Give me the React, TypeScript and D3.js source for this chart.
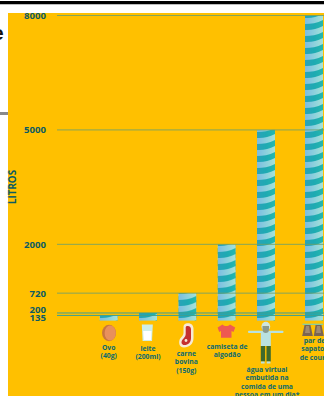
import React from "react";
import * as d3 from "d3";

// Virtual water footprint of everyday items, in litres
const tickValues = [8000, 5000, 2000, 720, 200, 135];
const barValues = [135, 200, 720, 2000, 5000, 8000];
const itemLabels = [
  ["Ovo", "(40g)"],
  ["leite", "(200ml)"],
  ["carne", "bovina", "(150g)"],
  ["camiseta de", "algodão"],
  ["água virtual", "embutida na", "comida de uma", "pessoa em um dia*"],
  ["par de", "sapatos", "de couro"],
];
const axisTitle = "LITROS";

const WIDTH = 324;
const HEIGHT = 396;
const BAR_W = 18;
const INK = "#0c5b63";
const LABEL = "#0a6a70";
const FONT = "'Open Sans', sans-serif";

const y = d3.scaleLinear().domain([0, 8000]).range([320.6, 15.5]);
// The last item sits a little apart from the evenly spaced first five
const xCenter = d3.scaleLinear().domain([0, 4, 5]).range([108.7, 266, 314]);

const labelLayout = [
  { dx: 0, top: 347.5 },
  { dx: 0, top: 349 },
  { dx: -1, top: 354 },
  { dx: 0.5, top: 346.7 },
  { dx: 1, top: 370 },
  { dx: 0.5, top: 341 },
];

function StripePattern({ id, x }: { id: string; x: number }) {
  return (
    <pattern id={id} patternUnits="userSpaceOnUse" x={x} y={0} width={BAR_W} height={12}>
      <rect width={BAR_W} height={12} fill="url(#barBase)" />
      <path d="M0,6 C6,6.5 12,5 18,2 L18,8 C12,11 6,12 0,12 Z" fill="url(#barLight)" />
    </pattern>
  );
}

function Icons() {
  return (
    <g>
      {/* egg */}
      <ellipse cx={109} cy={333} rx={7} ry={8.2} fill="#c8763f" />
      <ellipse cx={110.2} cy={333} rx={5.6} ry={7.4} fill="#e8905c" />
      {/* glass of milk */}
      <path d="M141.8,324.5 H152.8 L152,341 H142.6 Z" fill="#cfeee8" />
      <path d="M143.2,331 H151.5 L151,340 H143.8 Z" fill="#ffffff" />
      {/* cut of beef */}
      <path
        d="M186,323.5 C191,322.5 193.5,325 193.5,329 L193.5,338 C193.5,344 189,347.5 184,347.5 C179.5,347.5 178.5,343 179.5,340 C180.5,337 183,336.5 183.5,333 L183.5,327 C183.5,325 184.5,324 186,323.5 Z"
        fill="#f6ead6"
      />
      <path
        d="M186.8,326 C189.5,325.5 191,327 191,329.5 L191,338 C191,342.5 188,345 184.5,345 C181.5,345 181,342.5 182,340.5 C183,338.5 185.5,337.5 185.7,334 L185.7,328 C185.7,327 186,326.3 186.8,326 Z"
        fill="#c5302f"
      />
      <circle cx={186} cy={340.5} r={1.4} fill="#f6ead6" />
      {/* t-shirt */}
      <path
        d="M222.5,324.5 C224.5,326.5 228,326.5 230,324.5 L235.2,327.5 L233.5,332 L231.5,331 L231.5,337.8 H221 L221,331 L219.2,332 L217.6,327.5 Z"
        fill="#ee5a52"
      />
      {/* person */}
      <rect x={248} y={330.7} width={35.5} height={2.2} rx={1} fill="#b9e2e0" />
      <rect x={260.8} y={331} width={10} height={15} fill="#b9e2e0" />
      <rect x={260.8} y={346} width={4.3} height={15.5} fill="#3f6a2c" />
      <rect x={266.5} y={346} width={4.3} height={15.5} fill="#3f6a2c" />
      <rect x={261} y={361.5} width={3.6} height={2} fill="#b9e2e0" />
      <rect x={266.8} y={361.5} width={3.6} height={2} fill="#b9e2e0" />
      <ellipse cx={265.8} cy={326.6} rx={4.4} ry={4.8} fill="#cfe6dc" />
      <path d="M262.5,326 H269 V329.5 C269,332 267.5,333 265.8,333 C264,333 262.5,332 262.5,329.5 Z" fill="#8b9a8c" />
      {/* pair of shoes */}
      <rect x={302.5} y={323.7} width={20.5} height={1.2} fill="#7fcfb0" />
      <path d="M304.5,325 H310.5 L312.8,336 H302.2 Z" fill="#7a6553" />
      <path d="M315.5,325 H321.5 L323.8,336 H313.8 Z" fill="#7a6553" />
      <path d="M306,326 H309 L310,333 H305 Z" fill="#a08a70" />
      <path d="M317,326 H320 L321,333 H316 Z" fill="#a08a70" />
    </g>
  );
}

export default function App() {
  return (
    <svg
      width={WIDTH}
      height={HEIGHT}
      viewBox={`0 0 ${WIDTH} ${HEIGHT}`}
      style={{ position: "absolute", left: 0, top: 0, display: "block" }}
      fontFamily={FONT}
    >
      <defs>
        <linearGradient id="barBase" x1="0" x2="1" y1="0" y2="0">
          <stop offset="0" stopColor="#2ba2ba" />
          <stop offset="0.5" stopColor="#1eaab2" />
          <stop offset="1" stopColor="#24b8ae" />
        </linearGradient>
        <linearGradient id="barLight" x1="0" x2="1" y1="0" y2="0">
          <stop offset="0" stopColor="#7cbce2" />
          <stop offset="0.55" stopColor="#8ed2dc" />
          <stop offset="1" stopColor="#a6e2d8" />
        </linearGradient>
        {barValues.map((_, i) => (
          <StripePattern key={i} id={`stripes-${i}`} x={xCenter(i) - BAR_W / 2} />
        ))}
      </defs>

      {/* surrounding page */}
      <rect width={WIDTH} height={HEIGHT} fill="#ffffff" />
      <rect x={0} y={1} width={WIDTH} height={3} fill="#000000" />
      <rect x={0} y={4} width={WIDTH} height={1} fill="#bdbdbd" />
      <rect x={0} y={112} width={8} height={3} fill="#8a8a8a" />
      <text x={-7.5} y={40} fontSize={20} fontWeight={700} fill="#111" fontFamily="'Liberation Sans', sans-serif">
        e
      </text>

      {/* panel */}
      <rect x={8} y={13} width={WIDTH - 8} height={HEIGHT - 13} fill="#ffc000" />

      {barValues.map((v, i) => (
        <rect
          key={i}
          x={xCenter(i) - BAR_W / 2}
          y={y(v)}
          width={BAR_W}
          height={y(0) - y(v)}
          fill={`url(#stripes-${i})`}
        />
      ))}

      {tickValues.map((t) => (
        <line
          key={t}
          x1={57}
          x2={WIDTH}
          y1={y(t)}
          y2={y(t)}
          stroke={t <= 200 ? "#3f9f90" : "#6fa06a"}
          strokeOpacity={t <= 200 ? 1 : 0.85}
          strokeWidth={1}
        />
      ))}

      {tickValues.map((t) => (
        <text
          key={t}
          x={46}
          y={y(t) + (t === 200 ? -3.4 : t === 135 ? 1.7 : 0)}
          dy="0.36em"
          textAnchor="end"
          fontSize={9.6}
          fontWeight={700}
          fill={INK}
        >
          {t}
        </text>
      ))}

      <text
        transform="translate(15.5,187) rotate(-90)"
        textAnchor="middle"
        fontSize={9.8}
        fontWeight={700}
        fill={INK}
      >
        {axisTitle}
      </text>

      <Icons />

      {itemLabels.map((lines, i) => (
        <text
          key={i}
          textAnchor="middle"
          fontSize={6.8}
          fontWeight={700}
          fill={LABEL}
        >
          {lines.map((line, j) => (
            <tspan
              key={j}
              x={xCenter(i) + labelLayout[i].dx}
              y={labelLayout[i].top + j * 8.2 + 2.2}
            >
              {line}
            </tspan>
          ))}
        </text>
      ))}
    </svg>
  );
}
